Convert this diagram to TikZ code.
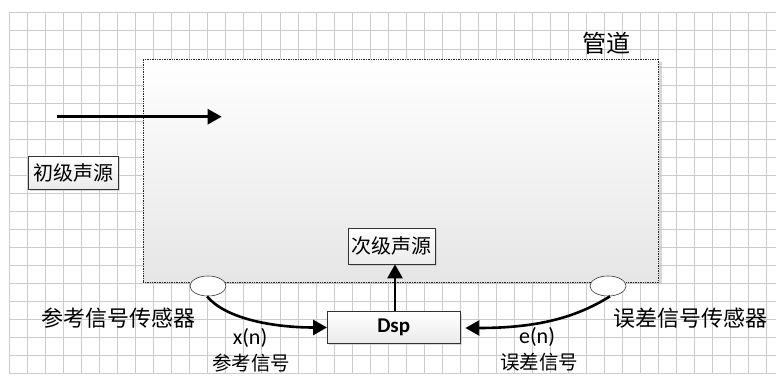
\documentclass[tikz,border=0pt]{standalone}
\usepackage{fontspec}
\setmainfont{Carlito}
\newfontfamily\cjk{Noto Sans CJK SC}
\usetikzlibrary{arrows.meta,shapes.geometric,calc}
\begin{document}
\begin{tikzpicture}[x=1pt,y=-1pt,
  gridline/.style={draw=black!20,line width=0.5pt},
  shadowfill/.style={fill=black!25,opacity=0.6},
  boxshape/.style={draw=black!80,line width=0.6pt,top color=white,bottom color=black!8,inner sep=0pt},
  sensor/.style={ellipse,draw=black!80,line width=0.6pt,fill=white,minimum width=36pt,minimum height=20pt,inner sep=0pt},
  thick arrow/.style={line width=2.6pt,-{Triangle[length=14pt,width=15pt]}},
  cjklabel/.style={font=\cjk\fontsize{22}{24}\selectfont,inner sep=0pt},
  smalllabel/.style={font=\cjk\fontsize{19.5}{22}\selectfont,inner sep=0pt},
  latinlabel/.style={font=\fontsize{22}{24}\selectfont,inner sep=0pt}
]
\useasboundingbox (0,0) rectangle (776,379);
\fill[white] (0,0) rectangle (776,379);
% grid
\foreach \i in {0,...,42} {
  \draw[gridline] ({9.3+18.03*\i},12.7) -- ({9.3+18.03*\i},373.3);
}
\draw[gridline] (766.7,12.7) -- (776,12.7);
\foreach \j in {0,...,20} {
  \draw[gridline] (9.3,{12.7+18.03*\j}) -- (776,{12.7+18.03*\j});
}
% pipe
\fill[shadowfill] (146,62) rectangle (661.5,284.5);
\node[draw=black!85,densely dotted,line width=0.7pt,top color=white,bottom color=black!10,
      minimum width=515.4pt,minimum height=222.7pt,inner sep=0pt] (pipe) at (401,170.65) {};
\node[font=\cjk\fontsize{24}{26}\selectfont,inner sep=0pt] (pipelabel) at (606,43) {管道};
% primary source
\coordinate (pstart) at (56.7,116.7);
\coordinate (pend) at (221.7,116.7);
\draw[thick arrow] (pstart) -- (pend);
\fill[shadowfill] (30.3,158) rectangle (120.3,191);
\node[boxshape,minimum width=90pt,minimum height=33pt,font=\cjk\fontsize{20}{22}\selectfont] (prim) at (73.3,172.5) {初级声源};
% secondary source
\fill[shadowfill] (350.3,230.3) rectangle (437,266);
\node[boxshape,minimum width=86.7pt,minimum height=35.7pt,font=\cjk\fontsize{20}{22}\selectfont] (sec) at (391.7,246.2) {次级声源};
% DSP
\fill[shadowfill] (329.3,313.7) rectangle (462,345.3);
\node[boxshape,minimum width=132.7pt,minimum height=31.7pt,font=\bfseries\fontsize{21}{23}\selectfont] (dsp) at (393.7,327.5) {Dsp};
% sensors
\node[sensor] (sl) at (208,286) {};
\node[sensor] (sr) at (608,286) {};
% connectors
\draw[thick arrow] ($(dsp.north)+(1.3,0)$) -- ($(dsp.north |- sec.south)+(1.3,0)$);
\draw[thick arrow] ($(sl.south)+(-1,0)$) .. controls +(18,22) and +(-55,0) .. (dsp.west);
\draw[thick arrow] ($(sr.south)+(2,0)$) .. controls +(-35,22) and +(70,0) .. ($(dsp.east)+(5,0.5)$);
% labels
\node[cjklabel] (lsl) at (118.3,318.3) {参考信号传感器};
\node[cjklabel] (lsr) at (690,318.3) {误差信号传感器};
\node[latinlabel] (xn) at (250,338) {x(n)};
\node[smalllabel] (xnl) at (251,362.7) {参考信号};
\node[latinlabel] (en) at (537,337) {e(n)};
\node[smalllabel] (enl) at (539,362) {误差信号};
\end{tikzpicture}
\end{document}
